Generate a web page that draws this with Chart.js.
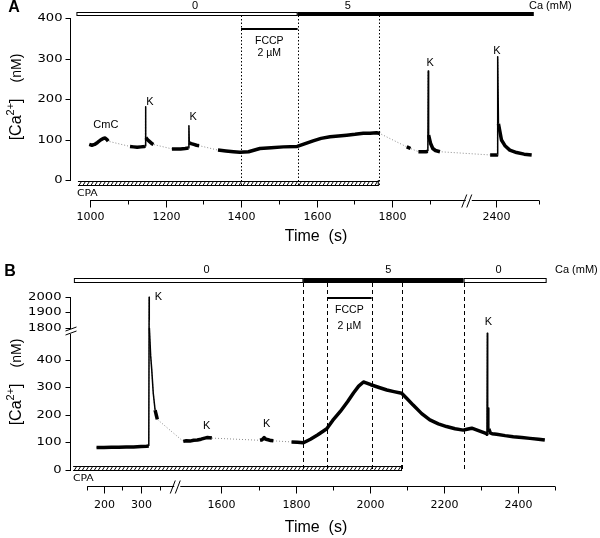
<!DOCTYPE html>
<html>
<head>
<meta charset="utf-8">
<script src="https://cdn.jsdelivr.net/npm/chart.js@4.4.1/dist/chart.umd.min.js"></script>
<style>
  body { margin: 0; background: #fff; }
  canvas { display: block; }
</style>
</head>
<body>
<canvas id="chartA" width="600" height="255"></canvas>
<canvas id="chartB" width="600" height="283"></canvas>
<script>
// Panel A recording: time (s) and [Ca2+] (nM). null = no recording (joined by a dotted line)
const timeA = [998, 1005, 1012, 1020, 1028, 1035, 1040, 1045, 1048, null,
  1106, 1115, 1125, 1135, 1144, 1146, 1147, 1148, 1152, 1158, 1164, 1168, null,
  1217, 1228, 1240, 1252, 1261, 1262, 1263, 1268, 1275, 1282, 1289, null,
  1339, 1360, 1380, 1397, 1420, 1450, 1480, 1512, 1549, 1570, 1591, 1612, 1636, 1658, 1680, 1702, 1724, 1742, 1759, 1768, null,
  1839, 1844, 1849, null,
  1870, 1880, 1890, 1895, 1896, 1897, 1902, 1908, 1915, 1927, null,
  2385, 2395, 2403, 2404, 2405, 2407, 2415, 2425, 2437, 2455, 2475, 2495];
const caA = [88, 86, 88, 93, 99, 103, 104, 100, 96, null,
  83, 82, 81, 82, 83, 84, 181, 105, 100, 95, 90, 88, null,
  77, 77, 77, 78, 79, 134, 92, 90, 88, 86, 85, null,
  74, 72, 70, 68.5, 70, 78, 80, 82, 83, 90, 97, 103, 107, 109, 111, 113, 115.5, 116, 117, 115, null,
  82, 80, 78, null,
  70, 70, 70, 71, 270, 111, 91, 78, 73, 70, null,
  62, 62, 62, 63, 305, 139, 99, 84, 74, 68, 64, 62];

// Panel B recording
const timeB = [180, 200, 220, 240, 260, 280, 300, 315, 321, 322, 322.3, null,
  322.6, 326, 329, 333, 338, 344, null,
  1497, 1505, 1515, 1525, 1535, 1545, 1555, 1562, 1568, 1574, null,
  1704, 1710, 1715, 1720, 1726, 1733, 1740, null,
  1789, 1805, 1821, 1840, 1860, 1884, 1900, 1920, 1940, 1956, 1970, 1983, 1990, 2003, 2025, 2046, 2065, 2086, 2100, 2117,
  2140, 2162, 2185, 2207, 2230, 2252, 2262, 2275, 2295, 2315, 2316, 2317, 2318, 2319, 2321, 2325, 2330, 2342, 2365, 2387,
  2410, 2432, 2455, 2472];
const caB = [82, 82, 83, 83, 84, 84, 85, 86, 87, 2000, 1850, null,
  1790, 600, 364, 280, 218, 184, null,
  104, 106, 105, 108, 109, 112, 116, 118, 117, 116, null,
  108, 110, 118, 112, 110, 107, 106, null,
  102, 101, 99, 112, 128, 150, 180, 212, 248, 280, 305, 320, 317, 310, 300, 291, 285, 279, 260, 236,
  205, 182, 168, 158, 150, 145, 148, 152, 142, 132, 130, 1560, 140, 225, 150, 135, 132, 130, 125, 121,
  118, 115, 112, 109];

// axis ticks
const yTicksA = [0, 100, 200, 300, 400];
const xTicksA = [1000, 1200, 1400, 1600, 1800, 2400];
const xMinorA = [1100, 1300, 1500, 1700, 1900];
const yTicksB = [0, 100, 200, 300, 400, 1800, 1900, 2000];
const xTicksB = [200, 300, 1600, 1800, 2000, 2200, 2400];
const xMinorB = [250, 350, 1700, 1900, 2100, 2300];

// protocol: Ca steps (mM), FCCP, CPA and marker lines (times in s)
const caStepsA = [{ from: 964, to: 1550, level: '0', labelAt: 1278, fill: '#fff' },
                  { from: 1550, to: 2500, level: '5', labelAt: 1683, fill: '#000' }];
const caStepsB = [{ from: 119, to: 1821, level: '0', labelAt: 1560, fill: '#fff' },
                  { from: 1821, to: 2253, level: '5', labelAt: 2050, fill: '#000' },
                  { from: 2253, to: 2477, level: '0', labelAt: 2347, fill: '#fff' }];
const fccpA = [1400, 1550];
const fccpB = [1885, 2005];
const cpaA = [968, 1765];
const cpaB = [117, 2087];
const linesA = [1400, 1550, 1765];
const linesB = [1821, 1885, 2005, 2087, 2253];
const notesA = [{ text: 'CmC', t: 1042, v: 136 }, { text: 'K', t: 1159, v: 193 }, { text: 'K', t: 1273, v: 156 },
                { text: 'K', t: 1901, v: 290 }, { text: 'K', t: 2403, v: 319 }];
const notesB = [{ text: 'K', t: 347, v: 2000 }, { text: 'K', t: 1560, v: 161 }, { text: 'K', t: 1722, v: 166 },
                { text: 'K', t: 2320, v: 1839 }];

// broken axes -> plotted units
const dispAx = t => t >= 2331 ? t - 325 : t;
const dispBx = t => t >= 1483 ? t - 1083 : t;
const dispBy = v => v <= 400 ? v : (v < 1800 ? 400 + (v - 400) * 117.5 / 1400 : 517.5 + (v - 1800) * 0.5527);

const ARIAL = '"Liberation Sans", Arial, sans-serif';
const VERD = '"DejaVu Sans", Verdana, sans-serif';

function text(ctx, str, x, y, font, align, sx) {
  ctx.save();
  ctx.font = font;
  ctx.fillStyle = '#000';
  ctx.textBaseline = 'middle';
  ctx.textAlign = align || 'center';
  ctx.translate(x, y);
  ctx.scale(sx || 1, 1);
  ctx.fillText(str, 0, 0);
  ctx.restore();
}

function line(ctx, x0, y0, x1, y1) {
  ctx.beginPath(); ctx.moveTo(x0, y0); ctx.lineTo(x1, y1); ctx.stroke();
}

function hatchBar(ctx, x0, x1, y0, y1) {
  ctx.save();
  ctx.strokeStyle = '#000'; ctx.lineWidth = 1;
  ctx.beginPath();
  ctx.moveTo(x0, y0 + 0.5); ctx.lineTo(x1, y0 + 0.5);
  ctx.moveTo(x0, y1 - 0.5); ctx.lineTo(x1, y1 - 0.5);
  for (let x = x0 + 1; x < x1 - 2; x += 4) { ctx.moveTo(x, y1 - 0.5); ctx.lineTo(x + 2.5, y0 + 0.5); }
  ctx.moveTo(x1 - 0.5, y0 - 1); ctx.lineTo(x1 - 0.5, y1);
  ctx.stroke();
  ctx.restore();
}

function breakMark(ctx, x, y, vertical) {
  ctx.save();
  ctx.fillStyle = '#fff';
  ctx.strokeStyle = '#000'; ctx.lineWidth = 1;
  if (!vertical) {
    ctx.fillRect(x - 4, y - 2, 6, 4);
    line(ctx, x - 8, y + 7, x - 3, y - 6);
    line(ctx, x - 3, y + 7, x + 2, y - 6);
  } else {
    ctx.fillRect(x - 2, y - 2, 4, 5);
    line(ctx, x - 5, y, x + 6, y - 4);
    line(ctx, x - 5, y + 4, x + 6, y);
  }
  ctx.restore();
}

function yTitle(ctx, cx, cy) {
  const parts = [['[Ca', '16px ' + ARIAL, 0], ['2+', '11px ' + ARIAL, -7], [']', '16px ' + ARIAL, 0],
                 [null, 16], ['(nM)', '14px ' + ARIAL, 0]];
  ctx.save();
  let total = 0;
  parts.forEach(p => { if (p[0] === null) total += p[1]; else { ctx.font = p[1]; total += ctx.measureText(p[0]).width; } });
  ctx.translate(cx, cy);
  ctx.rotate(-Math.PI / 2);
  ctx.fillStyle = '#000';
  ctx.textBaseline = 'alphabetic';
  let pos = -total / 2;
  parts.forEach(p => {
    if (p[0] === null) { pos += p[1]; return; }
    ctx.font = p[1];
    ctx.fillText(p[0], pos, p[2]);
    pos += ctx.measureText(p[0]).width;
  });
  ctx.restore();
}

function decor(p) {
  return {
    id: 'decor' + p.name,
    beforeDatasetsDraw(chart) {
      const ctx = chart.ctx;
      const X = t => chart.scales.x.getPixelForValue(p.dx(t));
      ctx.save();
      ctx.strokeStyle = '#000'; ctx.lineWidth = 1; ctx.setLineDash(p.vDash);
      p.vLines.forEach(t => { const x = Math.round(X(t)) + 0.5; line(ctx, x, p.vTop, x, p.vBottom); });
      ctx.restore();
    },
    afterDatasetsDraw(chart) {
      const ctx = chart.ctx;
      const X = t => chart.scales.x.getPixelForValue(p.dx(t));
      const Y = v => chart.scales.y.getPixelForValue(p.dy(v));
      ctx.save();
      ctx.strokeStyle = '#000'; ctx.lineWidth = 1;

      // Ca bar on top
      const [by0, by1] = p.caBarY;
      p.caSteps.forEach(s => {
        const x0 = X(s.from), x1 = X(s.to);
        ctx.fillStyle = s.fill;
        ctx.fillRect(x0, by0, x1 - x0, by1 - by0);
        ctx.strokeRect(x0 + 0.5, by0 + 0.5, x1 - x0 - 1, by1 - by0 - 1);
        text(ctx, s.level, X(s.labelAt), p.caLabelY, '11px ' + ARIAL);
      });
      text(ctx, 'Ca (mM)', p.caUnitX, p.caLabelY, '11px ' + ARIAL, 'left');

      // FCCP
      ctx.lineWidth = 2;
      line(ctx, X(p.fccp[0]), p.fccpY, X(p.fccp[1]), p.fccpY);
      ctx.lineWidth = 1;
      const fc = (X(p.fccp[0]) + X(p.fccp[1])) / 2;
      text(ctx, 'FCCP', fc, p.fccpTextY[0], '10.5px ' + ARIAL);
      text(ctx, '2 \u00b5M', fc, p.fccpTextY[1], '10.5px ' + ARIAL);

      // CPA
      hatchBar(ctx, X(p.cpa[0]), X(p.cpa[1]), p.cpaY[0], p.cpaY[1]);
      text(ctx, 'CPA', p.cpaTextX, p.cpaTextY, '9px ' + VERD, 'left', 1.2);

      // y axis
      const ax = p.yAxisX + 0.5;
      p.yAxisSegs.forEach(s => line(ctx, ax, s[0], ax, s[1]));
      p.yTicks.forEach(v => {
        const y = Math.round(Y(v)) + 0.5;
        line(ctx, ax - 5, y, ax, y);
        text(ctx, String(v), ax - p.yLabelGap, y, '10.5px ' + VERD, 'right', 1.25);
      });
      if (p.yBreak) breakMark(ctx, ax, p.yBreak, true);

      // x axis
      const xy = p.xAxisY + 0.5;
      line(ctx, X(p.xAxis[0]), xy, X(p.xAxis[1]), xy);
      p.xTicks.forEach(t => {
        const x = Math.round(X(t)) + 0.5;
        line(ctx, x, xy, x, xy + 7);
        text(ctx, String(t), x, p.xLabelY, '11px ' + VERD);
      });
      p.xMinor.concat(p.xAxis).forEach(t => {
        const x = Math.round(X(t)) + 0.5;
        line(ctx, x, xy, x, xy + 4);
      });
      breakMark(ctx, chart.scales.x.getPixelForValue(p.xBreak), xy, false);
      text(ctx, 'Time  (s)', p.timeX, p.timeY, '16px ' + ARIAL);

      yTitle(ctx, p.yTitleX, p.yTitleY);

      p.notes.forEach(n => text(ctx, n.text, X(n.t), Y(n.v), '11px ' + ARIAL));
      text(ctx, p.name, p.letter[0], p.letter[1], 'bold 16px ' + ARIAL);
      ctx.restore();
    }
  };
}

function makeChart(id, p) {
  let prevX = 0;
  const pts = p.time.map((t, i) => {
    if (t != null) prevX = p.dx(t);
    return { x: prevX, y: p.ca[i] == null ? null : p.dy(p.ca[i]) };
  });
  return new Chart(document.getElementById(id), {
    type: 'line',
    data: {
      datasets: [{
        data: pts, order: 0, borderColor: '#000', borderWidth: 3.5, pointRadius: 0, spanGaps: false,
        borderJoinStyle: 'round',
        segment: {
          borderWidth: c => (Math.abs(c.p1.x - c.p0.x) < 2 && Math.abs(c.p1.y - c.p0.y) > 12) ? 1.5 : 3.5
        }
      }, {
        data: pts, order: 1, borderColor: '#8c8c8c', borderWidth: 1, borderDash: [1, 2],
        pointRadius: 0, spanGaps: true
      }]
    },
    options: {
      responsive: false, animation: false, devicePixelRatio: 1, events: [],
      layout: { padding: { left: 60, right: 10, top: 0, bottom: 0 } },
      scales: {
        x: { type: 'linear', display: false, min: p.xMin, max: p.xMax },
        y: { type: 'linear', display: false, min: p.yMin, max: p.yMax }
      },
      plugins: { legend: { display: false }, tooltip: { enabled: false } }
    },
    plugins: [decor(p)]
  });
}

makeChart('chartA', {
  name: 'A', time: timeA, ca: caA, dx: dispAx, dy: v => v,
  xMin: 920.5, xMax: 2324.5, yMin: -185.6, yMax: 445.5,
  caSteps: caStepsA, caBarY: [12, 16], caLabelY: 6, caUnitX: 529,
  fccp: fccpA, fccpY: 29, fccpTextY: [41, 53],
  cpa: cpaA, cpaY: [181, 186], cpaTextX: 77, cpaTextY: 194,
  vLines: linesA, vDash: [1.5, 2], vTop: 12, vBottom: 186,
  yAxisX: 70, yAxisSegs: [[18, 181]], yTicks: yTicksA, yLabelGap: 8, yBreak: null,
  xAxisY: 200, xAxis: [1000, 2515], xTicks: xTicksA, xMinor: xMinorA, xBreak: 2006, xLabelY: 217,
  timeX: 316, timeY: 237, yTitleX: 21, yTitleY: 97,
  notes: notesA, letter: [14, 8]
});

makeChart('chartB', {
  name: 'B', time: timeB, ca: caB, dx: dispBx, dy: dispBy,
  xMin: 81.55, xMax: 1510.9, yMin: -247.3, yMax: 781.8,
  caSteps: caStepsB, caBarY: [23, 28], caLabelY: 15, caUnitX: 555,
  fccp: fccpB, fccpY: 43, fccpTextY: [55, 71],
  cpa: cpaB, cpaY: [211, 216], cpaTextX: 73, cpaTextY: 224,
  vLines: linesB, vDash: [4, 3], vTop: 28, vBottom: 216,
  yAxisX: 70, yAxisSegs: [[42, 74], [79, 216]], yTicks: yTicksB, yLabelGap: 9, yBreak: 76,
  xAxisY: 231, xAxis: [155, 2500], xTicks: xTicksB, xMinor: xMinorB, xBreak: 400.5, xLabelY: 250,
  timeX: 316, timeY: 273, yTitleX: 21, yTitleY: 127,
  notes: notesB, letter: [10, 17]
});
</script>
</body>
</html>
